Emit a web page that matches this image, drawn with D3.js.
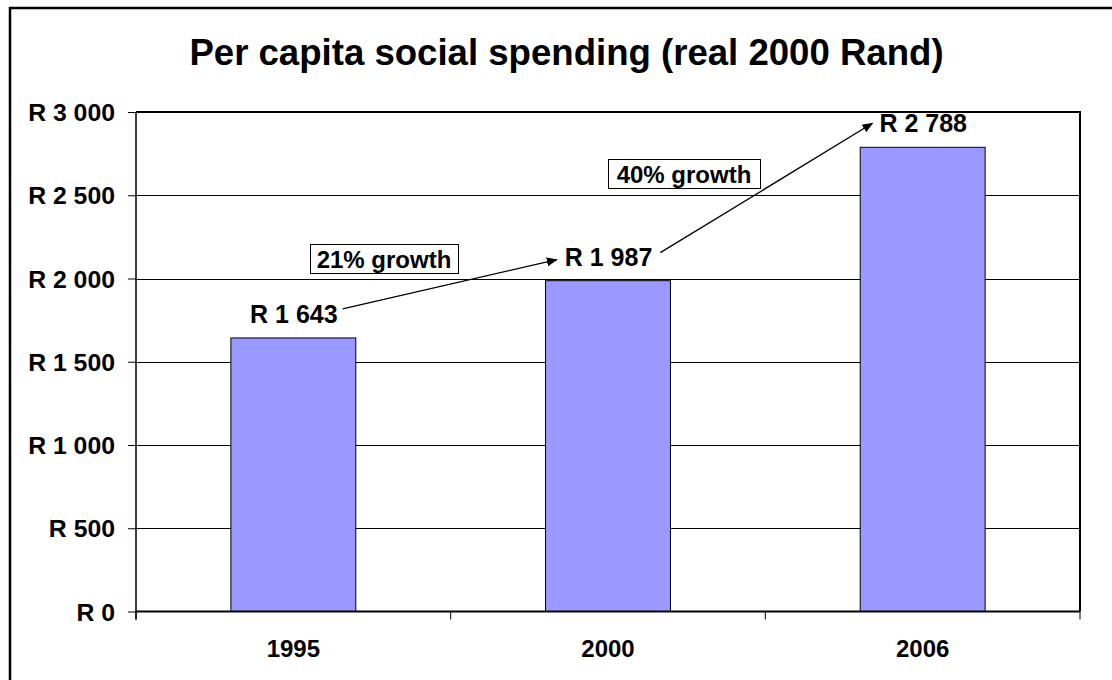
<!DOCTYPE html>
<html><head><meta charset="utf-8">
<script src="https://cdn.jsdelivr.net/npm/d3@7"></script>
<style>body{margin:0;background:#fff}svg{display:block}text{font-family:Arial,"Liberation Sans",sans-serif;font-weight:bold}</style>
</head><body>
<svg id="c" width="1112" height="680"></svg>
<script>
const categories = ["1995", "2000", "2006"];
const values = [1643, 1987, 2788];
const yTicks = [0, 500, 1000, 1500, 2000, 2500, 3000];
const growthLabels = ["21% growth", "40% growth"];
const title = "Per capita social spending (real 2000 Rand)";

const fmt = v => "R " + d3.format(",")(v).replace(/,/g, " ");
const FF = "Arial, 'Liberation Sans', sans-serif";

const svg = d3.select("#c");
const W = 1112, H = 680;
const L = 136, R = 1080, T = 112, B = 611.5;

// outer border (extends past right/bottom)
svg.append("rect").attr("x", 10).attr("y", 8).attr("width", W + 20).attr("height", H + 20)
  .attr("fill", "#fff").attr("stroke", "#000").attr("stroke-width", 2.5);

svg.append("text").attr("x", 566.5).attr("y", 65).attr("text-anchor", "middle")
  .attr("font-size", 36.6).text(title);

const x = d3.scaleBand().domain(categories).range([L, R]).paddingInner(0.603).paddingOuter(0.3015);
const y = d3.scaleLinear().domain([0, 3000]).range([B, T]);

// gridlines
svg.append("g").selectAll("line").data(yTicks.filter(d => d > 0 && d < 3000)).join("line")
  .attr("x1", L).attr("x2", R).attr("y1", d => Math.round(y(d)) + 0.5).attr("y2", d => Math.round(y(d)) + 0.5)
  .attr("stroke", "#000").attr("stroke-width", 1);

// plot border top/right
svg.append("path").attr("d", `M${L},${T}H${R}V${B}`).attr("fill", "none").attr("stroke", "#000").attr("stroke-width", 2);

// bars
svg.append("g").selectAll("rect").data(values).join("rect")
  .attr("x", (d, i) => x(categories[i])).attr("width", x.bandwidth())
  .attr("y", d => y(d)).attr("height", d => B - y(d))
  .attr("fill", "#9999FF").attr("stroke", "#000").attr("stroke-width", 1);

// y axis
const yAxis = d3.axisLeft(y).tickValues(yTicks).tickFormat(fmt).tickSize(8).tickPadding(13);
const gy = svg.append("g").attr("transform", `translate(${L},0)`).call(yAxis);
gy.attr("font-size", null).attr("font-family", null);
gy.select(".domain").attr("stroke", "#000").attr("stroke-width", 1.5).attr("d", `M0,${T}V${B + 8}`);
gy.selectAll("text").attr("font-size", 24.8).attr("font-family", FF).attr("font-weight", "bold").attr("fill", "#000").attr("dy", "0.35em");

// x axis
const gx = svg.append("g").attr("transform", `translate(0,${B})`).call(d3.axisBottom(x).tickSize(0).tickPadding(0));
gx.attr("font-size", null).attr("font-family", null);
gx.select(".domain").attr("stroke", "#000").attr("stroke-width", 2).attr("d", `M${L},0H${R}`);
gx.selectAll("text").attr("font-size", 24).attr("font-family", FF).attr("font-weight", "bold").attr("fill", "#000")
  .attr("y", 45.5).attr("dy", null);
const bounds = [L].concat(categories.map(c => x(c) + x.bandwidth() + x.step() * x.paddingInner() / 2));
bounds[bounds.length - 1] = R;
svg.append("g").selectAll("line").data(bounds).join("line")
  .attr("x1", d => d).attr("x2", d => d).attr("y1", B).attr("y2", B + 8).attr("stroke", "#000").attr("stroke-width", 1);

// value labels
const lbls = svg.append("g").selectAll("text").data(values).join("text")
  .attr("x", (d, i) => x(categories[i]) + x.bandwidth() / 2 + 0.5)
  .attr("y", d => y(d) - 15).attr("text-anchor", "middle").attr("font-size", 25).text(fmt);
const lb = [];
lbls.each(function(d, i) {
  const w = this.getComputedTextLength();
  const cx = x(categories[i]) + x.bandwidth() / 2 + 0.5;
  lb.push({ left: cx - w / 2, right: cx + w / 2, base: y(d) - 15 });
});

// arrows
const defs = svg.append("defs");
defs.append("marker").attr("id", "ah").attr("viewBox", "0 0 10 10").attr("refX", 9).attr("refY", 5)
  .attr("markerWidth", 11).attr("markerHeight", 11).attr("markerUnits", "userSpaceOnUse").attr("orient", "auto")
  .append("path").attr("d", "M0,1L10,5L0,9Z").attr("fill", "#000");
const arrows = [
  [lb[0].right + 5, lb[0].base - 14, lb[1].left - 8, lb[1].base - 6],
  [lb[1].right + 8, lb[1].base - 13, lb[2].left - 7, lb[2].base - 9]
];
svg.append("g").selectAll("line").data(arrows).join("line")
  .attr("x1", d => d[0]).attr("y1", d => d[1]).attr("x2", d => d[2]).attr("y2", d => d[3])
  .attr("stroke", "#000").attr("stroke-width", 1.3).attr("marker-end", "url(#ah)");

// growth boxes
const boxes = [[310, 244, 148, 29], [608, 159, 152, 29]];
const gb = svg.append("g").selectAll("g").data(growthLabels).join("g");
gb.append("rect").attr("x", (d, i) => boxes[i][0] + 0.5).attr("y", (d, i) => boxes[i][1] + 0.5)
  .attr("width", (d, i) => boxes[i][2]).attr("height", (d, i) => boxes[i][3])
  .attr("fill", "#fff").attr("stroke", "#000").attr("stroke-width", 1);
gb.append("text").attr("x", (d, i) => boxes[i][0] + boxes[i][2] / 2).attr("y", (d, i) => boxes[i][1] + 24)
  .attr("text-anchor", "middle").attr("font-size", 24).text(d => d);
</script>
</body></html>
